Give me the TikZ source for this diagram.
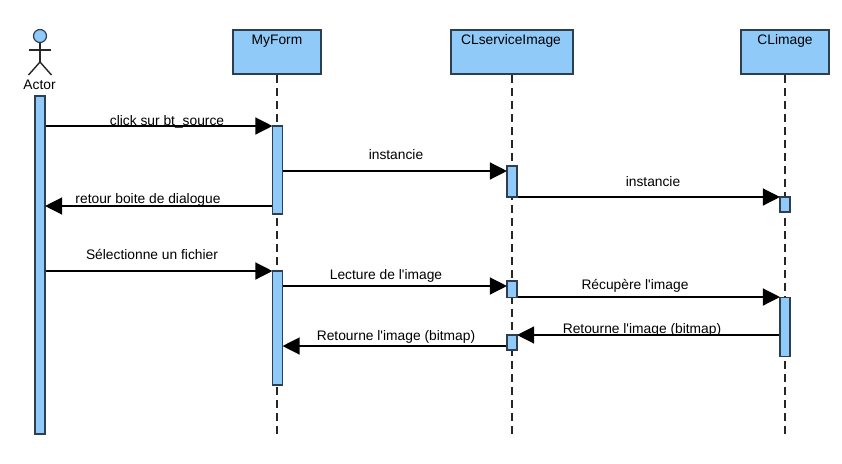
\documentclass[tikz,border=0pt]{standalone}
\usepackage{fontspec}
\setmainfont{Liberation Sans}[Ligatures=TeXOff]
\usetikzlibrary{arrows.meta}
\definecolor{barblue}{HTML}{90CAF9}
\definecolor{barline}{HTML}{2C3E50}
\tikzset{
  lane/.style={rectangle,draw=barline,fill=barblue,line width=1.5pt,inner sep=0pt},
  bar/.style={rectangle,draw=barline,fill=barblue,line width=1.5pt,inner sep=0pt,minimum width=10pt},
  life/.style={draw=black!85,line width=1.6pt,dash pattern=on 8pt off 5pt},
  msg/.style={line width=1.3pt,shorten >=-.7pt,-{Triangle[length=17pt,width=17pt]}},
  txt/.style={font=\fontsize{13.8}{16}\selectfont,inner sep=0pt,anchor=base},
  stick/.style={draw=black!85,line width=1.4pt}
}
\begin{document}
\begin{tikzpicture}[x=1pt,y=-1pt]
  \useasboundingbox (0,0) rectangle (842,463);
  % lifelines
  \coordinate (eform) at (277.2,434);
  \coordinate (eserv) at (512,434);
  \coordinate (eimg) at (785,434);
  \node[lane,minimum width=88pt,minimum height=44pt] (myform) at (277.2,52) {};
  \node[lane,minimum width=122pt,minimum height=44pt] (clserv) at (512,52) {};
  \node[lane,minimum width=88pt,minimum height=44pt] (climg) at (785,52) {};
  \node[txt] (tform) at (277,44) {MyForm};
  \node[txt] (tserv) at (511,44) {CLserviceImage};
  \node[txt] (timg) at (785,44) {CLimage};
  \foreach \from/\to in {myform/eform,clserv/eserv,climg/eimg}
    \draw[life] (\from.south) -- (\to);
  % actor
  \node[circle,draw=barline,fill=barblue,line width=1.2pt,minimum size=13pt,inner sep=0pt] (head) at (40,36) {};
  \coordinate (hip) at (40,62);
  \coordinate (arml) at (29,50);
  \coordinate (armr) at (51,50);
  \coordinate (legl) at (28.5,75);
  \coordinate (legr) at (51.5,75);
  \draw[stick] (head) -- (hip);
  \draw[stick] (arml) -- (armr);
  \draw[stick] (legl) -- (hip) -- (legr);
  \node[txt] (tactor) at (39.5,89) {Actor};
  % activations
  \node[bar,minimum height=338pt] (actor) at (40,265) {};
  \node[bar,minimum height=88pt] (fa) at (277.5,170) {};
  \node[bar,minimum height=114pt] (fb) at (277.5,328) {};
  \node[bar,minimum height=31pt] (sa) at (512,181.5) {};
  \node[bar,minimum height=16.5pt] (sb) at (512,289.2) {};
  \node[bar,minimum height=15pt] (sc) at (512,342.5) {};
  \node[bar,minimum height=15pt] (ia) at (785,204.5) {};
  \node[bar,minimum height=59pt] (ib) at (785,327) {};
  % messages
  \foreach \from/\to/\yy in {actor.east/fa.west/126,fa.east/sa.west/171,sa.east/ia.west/197,
    fa.west/actor.east/206,actor.east/fb.west/271,fb.east/sb.west/286,sb.east/ib.west/297,
    ib.west/sc.east/335,sc.west/fb.east/346}
    \draw[msg] (\from |- 0,\yy) -- (\to |- 0,\yy);
  % labels
  \node[txt] (m1) at (167,125) {click sur bt\_source};
  \node[txt] (m2) at (396,159) {instancie};
  \node[txt] (m3) at (653,186) {instancie};
  \node[txt] (m4) at (148,203) {retour boite de dialogue};
  \node[txt] (m5) at (152,259) {Sélectionne un fichier};
  \node[txt] (m6) at (386,279) {Lecture de l'image};
  \node[txt] (m7) at (635,289) {Récupère l'image};
  \node[txt] (m8) at (642,333) {Retourne l'image (bitmap)};
  \node[txt] (m9) at (396,340.5) {Retourne l'image (bitmap)};
\end{tikzpicture}
\end{document}
